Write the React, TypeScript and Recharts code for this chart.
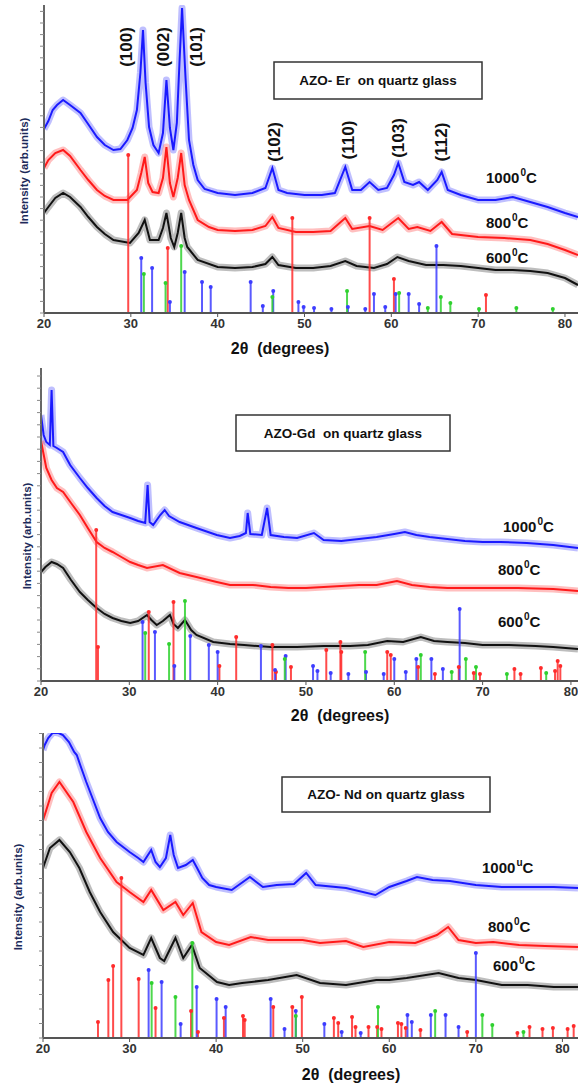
import React from 'react';
import { ComposedChart, Line, XAxis, YAxis, ReferenceLine, ReferenceDot } from 'recharts';

type P = [number, number];
const FONT = "Arial, 'Liberation Sans', sans-serif";

const xTicks = [20, 30, 40, 50, 60, 70, 80];

// ---------- Panel 1 : AZO-Er ----------
const er1000: P[] = [
  [20, 184], [20.5, 192], [21, 203], [21.5, 208], [22.2, 213], [23, 208], [24.2, 200], [25, 190], [26.1, 176], [27, 168],
  [28, 163], [28.8, 164], [29.6, 173], [30.2, 185], [30.7, 203], [31.1, 240], [31.4, 283], [31.7, 230], [32.1, 186], [32.6, 168],
  [33.2, 160], [33.7, 180], [34.1, 233], [34.5, 185], [34.9, 163], [35.3, 190], [35.6, 250], [35.9, 305], [36.3, 235], [36.7, 173],
  [37.2, 148], [37.7, 133], [38.5, 124], [40, 120], [42, 118], [44, 120], [45.5, 125], [46.3, 145], [47, 123],
  [48, 120], [50, 118], [52, 118], [53.5, 120], [54.7, 146], [55.5, 123], [56.5, 123], [57.5, 131], [58.5, 123], [59.5, 125],
  [60.3, 138], [60.8, 150], [61.5, 131], [62.5, 128], [63.2, 131], [64.2, 123], [65.3, 133], [65.8, 141], [66.5, 123], [68, 118],
  [70, 113], [72, 113], [74, 116], [76, 111], [78, 106], [80, 100], [81.5, 96],
];
const er800: P[] = [
  [20, 145], [20.5, 153], [21.3, 160], [22.2, 163], [23, 157], [24.2, 143], [25.1, 133], [26.1, 123], [27, 117], [28, 113],
  [29.6, 113], [30.7, 123], [31.2, 140], [31.6, 156], [32, 130], [32.5, 121], [33.2, 120], [33.7, 135], [34.1, 166], [34.5, 130],
  [34.9, 116], [35.4, 135], [35.8, 160], [36.2, 128], [36.7, 113], [37.7, 93], [39, 86], [40, 83], [42, 82],
  [44, 83], [45.5, 87], [46.3, 96], [47, 85], [49, 81], [51, 81], [53, 82], [54.7, 95], [55.5, 84], [57.5, 87],
  [59, 83], [60.8, 95], [62, 84], [63, 86], [64.5, 82], [65.8, 91], [67, 79], [70, 76], [73, 75], [76, 73],
  [78, 69], [80, 63], [81.5, 58],
];
const er600: P[] = [
  [20, 100], [20.5, 106], [21.3, 115], [22.2, 120], [23, 116], [24.2, 106], [25.1, 96], [26.1, 86], [27, 79], [28, 73],
  [29.9, 70], [30.9, 80], [31.6, 93], [32.2, 73], [33.2, 73], [33.7, 85], [34.1, 100], [34.6, 75], [35, 66], [35.4, 80],
  [35.8, 100], [36.2, 75], [36.5, 66], [37.7, 53], [40, 46], [42, 45], [44, 46], [45.5, 49],
  [46.3, 56], [47, 48], [49, 45], [51, 45], [53, 47], [54.7, 52], [56, 47], [58, 45], [59.5, 49], [60.7, 56],
  [62, 52], [64, 48], [66, 48], [68, 47], [70, 45], [72, 43], [74, 43], [76, 42], [78, 40], [80, 35], [81.5, 28],
];
const erRed: P[] = [[29.7, 158], [34.25, 65], [48.6, 95], [57.5, 95], [60.3, 34], [70.9, 18]];
const erBlue: P[] = [
  [31.2, 55], [32.45, 45], [34.5, 11], [36.2, 41], [38.2, 31], [39.2, 26], [43.8, 31], [45.2, 7], [46.4, 22], [49.3, 11],
  [49.9, 6], [51.1, 5], [53.1, 4], [55, 6], [57, 4], [58, 19], [59.3, 6], [60.5, 19], [62, 19], [63.2, 9], [65.2, 67],
];
const erGreen: P[] = [
  [31.5, 39], [34.0, 30], [35.8, 67], [46.3, 16], [54.9, 22], [60.9, 20], [64.2, 5], [65.7, 16], [66.8, 10], [70.1, 4],
  [74.4, 5], [78.6, 4],
];

// ---------- Panel 2 : AZO-Gd ----------
const gd1000: P[] = [
  [20, 266], [20.3, 246], [20.6, 239], [21, 236], [21.2, 291], [21.4, 235], [21.8, 233], [22.5, 229], [23.3, 216], [24.4, 203],
  [25.3, 193], [26.3, 183], [27.2, 175], [28.1, 169], [29.1, 166], [30.1, 163], [31, 160], [31.8, 158], [32.07, 196], [32.3, 159],
  [32.7, 156], [33.5, 166], [34, 171], [34.5, 165], [35.7, 159], [37.6, 153], [39.9, 146], [41.4, 143], [42.5, 145], [43.2, 148],
  [43.4, 168], [43.7, 147], [45, 146], [45.6, 173], [46, 146], [47.5, 144], [49, 143], [50.9, 148], [52, 141], [54, 140],
  [56, 142], [58, 144], [60, 147], [61.2, 149], [62.5, 146], [64, 144], [66, 142], [68, 140], [70, 139], [72, 139],
  [75, 138], [78, 136], [80.8, 133],
];
const gd800: P[] = [
  [20, 240], [20.6, 213], [21.2, 201], [21.8, 193], [22.5, 189], [23.4, 178], [24.4, 166], [25.3, 153], [26.3, 139], [27.2, 133],
  [28.1, 129], [29.1, 124], [30.1, 119], [31, 116], [32, 113], [33.8, 116], [35.7, 108], [37.6, 104], [39.9, 99], [41.4, 96],
  [44, 96], [46, 94], [48, 93], [50, 93], [52, 94], [54, 95], [56, 96], [58, 96], [60.3, 100], [62, 96],
  [64, 94], [66, 93], [70, 93], [74, 93], [78, 92], [80.8, 90],
];
const gd600: P[] = [
  [20, 109], [20.5, 114], [21.2, 119], [21.8, 117], [22.5, 113], [23.4, 101], [24.4, 89], [25.3, 81], [26.3, 73], [27.2, 67],
  [28.1, 63], [29.1, 60], [30.1, 58], [31, 60], [32, 66], [32.5, 61], [33.1, 56], [33.8, 60], [34.6, 66], [35, 57],
  [35.5, 53], [36.3, 61], [37, 51], [37.6, 46], [39.5, 39], [41.4, 37], [43, 36], [46, 34], [49, 34], [52, 35],
  [55, 35], [57, 36], [59.2, 40], [61, 39], [63, 44], [64.5, 40], [66, 39], [68, 38], [70, 36], [73, 36],
  [76, 35], [78, 34], [80.8, 32],
];
const gdRed: P[] = [
  [26.25, 151], [26.45, 34], [32.2, 69], [35.0, 79], [40.2, 15], [42.1, 44], [46.2, 36], [46.6, 9], [48.3, 14], [52.3, 31],
  [53.9, 39], [54.0, 29], [59.2, 29], [59.6, 26], [62.7, 14], [64.6, 7], [67.3, 14], [69.0, 8], [69.7, 7], [73.6, 12],
  [74.3, 7], [76.6, 13], [78.2, 10], [78.5, 20], [78.8, 15],
];
const gdBlue: P[] = [
  [31.5, 59], [32.9, 49], [35.1, 15], [36.9, 45], [39.0, 36], [40.0, 29], [44.9, 35], [46.5, 11], [47.7, 25], [50.8, 15],
  [51.3, 10], [52.8, 8], [54.8, 7], [56.8, 9], [58.8, 7], [60.0, 22], [61.3, 9], [62.5, 22], [64.2, 22], [65.5, 12],
  [67.4, 72],
];
const gdGreen: P[] = [
  [31.8, 48], [34.5, 37], [36.3, 80], [47.6, 22], [56.7, 29], [63.0, 26], [66.5, 9], [68.1, 22], [69.25, 14], [72.75, 7],
  [77.2, 8],
];

// ---------- Panel 3 : AZO-Nd ----------
const nd1000: P[] = [
  [20, 288], [20.2, 293], [20.6, 300], [21.2, 306], [21.8, 305], [22.3, 303], [23, 296], [23.6, 286], [23.9, 283], [24.3, 273],
  [25, 256], [25.8, 238], [26.6, 220], [27.5, 206], [28.5, 196], [30, 186], [31, 180], [31.6, 176], [32.5, 188], [33, 176],
  [33.5, 171], [34.2, 180], [34.7, 203], [35.1, 183], [35.6, 170], [36.5, 173], [37.3, 178], [37.8, 170], [38.4, 160], [39.2, 153],
  [40, 151], [41.8, 148], [43.9, 161], [45.4, 151], [47, 153], [49, 154], [50.4, 165], [51.5, 153], [55, 150], [58.4, 143],
  [60, 151], [62, 157], [63.2, 161], [65, 158], [67, 157], [70, 153], [73, 151], [76, 151], [79, 151], [81.8, 150],
];
const nd800: P[] = [
  [20, 218], [20.2, 223], [21, 245], [21.9, 256], [23.5, 236], [25, 206], [26.6, 180], [28.5, 156], [30, 146], [31.6, 136],
  [32.5, 148], [33.9, 128], [35.3, 136], [36.2, 123], [37.3, 135], [38.3, 106], [40, 96], [41.5, 93], [44, 101], [46, 98],
  [50, 98], [52, 95], [55, 97], [57, 91], [60, 96], [63, 95], [65.5, 103], [66.8, 111], [68, 98], [70, 95],
  [72, 96], [75, 93], [78, 92], [81.8, 91],
];
const nd600: P[] = [
  [20, 170], [20.8, 190], [21.9, 198], [23.1, 186], [24.2, 170], [25.4, 146], [26.6, 126], [28.1, 106], [30, 90], [31.6, 83],
  [32.5, 100], [33.5, 80], [34, 77], [35.3, 100], [36.2, 80], [37.2, 93], [38.1, 70], [40.1, 56], [41.5, 53], [43, 55],
  [46, 58], [49.3, 63], [52, 55], [55, 53], [58.5, 58], [60, 58], [62, 60], [65.7, 65], [68, 60], [70, 58],
  [73, 53], [76, 53], [79, 51], [81.8, 51],
];
const ndRed: P[] = [
  [26.35, 16], [27.55, 58], [28.1, 72], [29.05, 160], [31.05, 59], [33.0, 30], [37.1, 27], [37.9, 6], [40.9, 20], [43.1, 22],
  [43.3, 18], [46.6, 31], [48.8, 31], [49.9, 41], [53.6, 20], [54.1, 15], [55.7, 21], [56.1, 11], [57.6, 11], [58.6, 11],
  [59.1, 9], [61.0, 15], [61.4, 14], [61.9, 10], [63.6, 8], [69.0, 6], [74.8, 5], [76.2, 11], [77.7, 9], [78.9, 10],
  [80.6, 9], [81.3, 12],
];
const ndBlue: P[] = [
  [32.2, 68], [33.7, 56], [35.9, 14], [37.75, 51], [40.05, 39], [41.1, 31], [46.3, 39], [47.9, 9], [49.2, 27], [52.5, 14],
  [54.5, 6], [56.7, 5], [62.1, 23], [62.6, 16], [64.8, 23], [66.5, 23], [68.0, 11], [70.0, 85],
];
const ndGreen: P[] = [
  [32.55, 55], [35.3, 41], [37.25, 95], [49.2, 22], [58.7, 31], [65.3, 27], [70.75, 23], [71.9, 13], [75.5, 6],
];

const C_BLUE = '#1a1aff';
const C_RED = '#ff1a1a';
const C_BLACK = '#111111';
const S_RED = '#ff2b2b';
const S_BLUE = '#3d3dff';
const S_GREEN = '#2fd12f';

const toPts = (a: P[]) => a.map(([x, y]) => ({ x, y }));

type PanelProps = {
  top: number;
  height: number;
  marginTop: number;
  axisLeft: number;
  xMax: number;
  yMax: number;
  yStep: number;
  curves: { data: P[]; color: string }[];
  sticks: { data: P[]; color: string }[];
};

const NoLabel = () => <g />;

function Panel({ top, height, marginTop, axisLeft, xMax, yMax, yStep, curves, sticks }: PanelProps) {
  const yTicks = Array.from({ length: Math.floor(yMax / yStep) + 1 }, (_, i) => i * yStep);
  return (
    <div style={{ position: 'absolute', left: 0, top, width: 578, height }}>
      <ComposedChart width={578} height={height} margin={{ top: marginTop, right: 0, bottom: 0, left: 0 }}>
        <XAxis
          type="number"
          dataKey="x"
          domain={[20, xMax]}
          ticks={xTicks}
          interval={0}
          allowDataOverflow
          height={20}
          axisLine={{ stroke: '#555', strokeWidth: 2 }}
          tickLine={{ stroke: '#555' }}
          tickSize={4}
          tickMargin={2}
          tick={{ fill: '#333', fontSize: 13, fontWeight: 'bold', fontFamily: FONT }}
        />
        <YAxis
          type="number"
          domain={[0, yMax]}
          ticks={yTicks}
          interval={0}
          width={axisLeft}
          allowDataOverflow
          tick={NoLabel}
          tickSize={4}
          axisLine={{ stroke: '#666', strokeWidth: 2 }}
          tickLine={{ stroke: '#888' }}
        />
        {curves.map((c, i) => (
          <Line
            key={'h' + i}
            data={toPts(c.data)}
            dataKey="y"
            type="linear"
            stroke={c.color}
            strokeOpacity={0.28}
            strokeWidth={7}
            strokeLinejoin="round"
            dot={false}
            isAnimationActive={false}
          />
        ))}
        {curves.map((c, i) => (
          <Line
            key={'c' + i}
            data={toPts(c.data)}
            dataKey="y"
            type="linear"
            stroke={c.color}
            strokeWidth={2}
            dot={false}
            isAnimationActive={false}
          />
        ))}
        {sticks.map((s, si) =>
          s.data.map(([x, h], i) => (
            <ReferenceLine
              key={`l${si}-${i}`}
              segment={[{ x, y: 0 }, { x, y: h }]}
              stroke={s.color}
              strokeWidth={2}
              strokeOpacity={0.85}
            />
          ))
        )}
        {sticks.map((s, si) =>
          s.data.map(([x, h], i) => (
            <ReferenceDot key={`d${si}-${i}`} x={x} y={h} r={2} fill={s.color} stroke="none" />
          ))
        )}
      </ComposedChart>
    </div>
  );
}

function Temp({ x, y, value, sup }: { x: number; y: number; value: string; sup: string }) {
  return (
    <text x={x} y={y + 5} fontFamily={FONT} fontWeight="bold" fontSize={15} fill="#111">
      {value}
      <tspan fontSize={10} dy={-7} dx={1}>{sup}</tspan>
      <tspan dy={7}>C</tspan>
    </text>
  );
}

function Hkl({ x, y, t }: { x: number; y: number; t: string }) {
  return (
    <text
      x={x}
      y={y}
      transform={`rotate(-90 ${x} ${y})`}
      textAnchor="middle"
      dominantBaseline="central"
      fontFamily={FONT}
      fontWeight="bold"
      fontSize={17}
      fill="#111"
    >
      {t}
    </text>
  );
}

function YLabel({ x, y }: { x: number; y: number }) {
  return (
    <text
      x={x}
      y={y}
      transform={`rotate(-90 ${x} ${y})`}
      textAnchor="middle"
      dominantBaseline="central"
      fontFamily={FONT}
      fontWeight="bold"
      fontSize={11.5}
      fill="#1c2a5a"
    >
      Intensity (arb.units)
    </text>
  );
}

function XLabel({ x, y }: { x: number; y: number }) {
  return (
    <text x={x} y={y} textAnchor="middle" dominantBaseline="central" fontFamily={FONT} fontWeight="bold" fontSize={16} fill="#111" style={{ whiteSpace: 'pre' }}>
      {'2θ  (degrees)'}
    </text>
  );
}

function Box({ x, y, w, h, t }: { x: number; y: number; w: number; h: number; t: string }) {
  return (
    <g>
      <rect x={x} y={y} width={w} height={h} fill="#fff" stroke="#333" strokeWidth={1.5} />
      <text x={x + w / 2} y={y + h / 2} textAnchor="middle" dominantBaseline="central" fontFamily={FONT} fontWeight="bold" fontSize={13.5} fill="#111" style={{ whiteSpace: 'pre' }}>
        {t}
      </text>
    </g>
  );
}

export default function App() {
  return (
    <div style={{ position: 'absolute', left: 0, top: 0, width: 578, height: 1086, background: '#fff', overflow: 'hidden' }}>
      <Panel
        top={0}
        height={333}
        marginTop={5}
        axisLeft={44}
        xMax={81.5}
        yMax={308}
        yStep={11.6}
        curves={[
          { data: er1000, color: C_BLUE },
          { data: er800, color: C_RED },
          { data: er600, color: C_BLACK },
        ]}
        sticks={[
          { data: erRed, color: S_RED },
          { data: erBlue, color: S_BLUE },
          { data: erGreen, color: S_GREEN },
        ]}
      />
      <Panel
        top={360}
        height={341}
        marginTop={8}
        axisLeft={41}
        xMax={80.8}
        yMax={313}
        yStep={12.2}
        curves={[
          { data: gd1000, color: C_BLUE },
          { data: gd800, color: C_RED },
          { data: gd600, color: C_BLACK },
        ]}
        sticks={[
          { data: gdRed, color: S_RED },
          { data: gdBlue, color: S_BLUE },
          { data: gdGreen, color: S_GREEN },
        ]}
      />
      <Panel
        top={725}
        height={333}
        marginTop={8}
        axisLeft={43}
        xMax={81.8}
        yMax={305}
        yStep={14.5}
        curves={[
          { data: nd1000, color: C_BLUE },
          { data: nd800, color: C_RED },
          { data: nd600, color: C_BLACK },
        ]}
        sticks={[
          { data: ndRed, color: S_RED },
          { data: ndBlue, color: S_BLUE },
          { data: ndGreen, color: S_GREEN },
        ]}
      />
      <svg width={578} height={1086} style={{ position: 'absolute', left: 0, top: 0, pointerEvents: 'none' }}>
        {/* Panel 1 */}
        <Hkl x={126} y={47} t="(100)" />
        <Hkl x={163} y={47} t="(002)" />
        <Hkl x={196} y={47} t="(101)" />
        <Hkl x={274} y={142} t="(102)" />
        <Hkl x={348} y={140} t="(110)" />
        <Hkl x={398} y={138} t="(103)" />
        <Hkl x={441} y={142} t="(112)" />
        <Box x={274} y={62} w={208} h={37} t="AZO- Er  on quartz glass" />
        <Temp x={486} y={178} value="1000" sup="0" />
        <Temp x={486} y={223} value="800" sup="0" />
        <Temp x={486} y={258} value="600" sup="0" />
        <YLabel x={24} y={171} />
        <XLabel x={280} y={348} />
        {/* Panel 2 */}
        <Box x={236} y={415} w={214} h={36} t="AZO-Gd  on quartz glass" />
        <Temp x={503} y={527} value="1000" sup="0" />
        <Temp x={498} y={570} value="800" sup="0" />
        <Temp x={498} y={622} value="600" sup="0" />
        <YLabel x={27} y={536} />
        <XLabel x={340} y={715} />
        {/* Panel 3 */}
        <Box x={282} y={777} w={208} h={35} t="AZO- Nd on quartz glass" />
        <Temp x={482} y={868} value="1000" sup="u" />
        <Temp x={488} y={927} value="800" sup="0" />
        <Temp x={493} y={966} value="600" sup="0" />
        <YLabel x={18} y={897} />
        <XLabel x={351} y={1074} />
      </svg>
    </div>
  );
}
